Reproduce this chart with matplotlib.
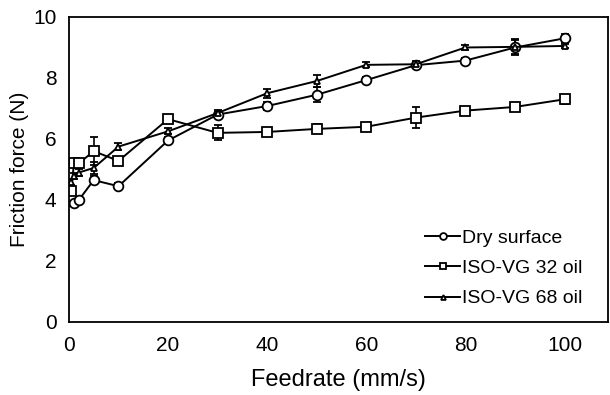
import matplotlib
matplotlib.use("Agg")
import matplotlib.pyplot as plt

plt.rcParams["font.family"] = ["Liberation Sans", "DejaVu Sans"]

feedrate = [0.5, 1, 2, 5, 10, 20, 30, 40, 50, 60, 70, 80, 90, 100]

dry = [4.1, 3.9, 4.0, 4.65, 4.45, 5.95, 6.8, 7.08, 7.45, 7.93, 8.42, 8.57, 9.0, 9.3]
dry_err = [0.1, 0.08, 0.08, 0.12, 0.1, 0.1, 0.1, 0.12, 0.25, 0.1, 0.1, 0.1, 0.25, 0.15]

vg32 = [4.3, 5.2, 5.2, 5.6, 5.28, 6.65, 6.2, 6.23, 6.33, 6.4, 6.7, 6.93, 7.05, 7.3]
vg32_err = [0.15, 0.1, 0.1, 0.45, 0.1, 0.1, 0.25, 0.08, 0.15, 0.08, 0.35, 0.08, 0.08, 0.15]

vg68 = [4.6, 4.8, 4.9, 5.05, 5.75, 6.25, 6.85, 7.5, 7.9, 8.43, 8.45, 9.0, 9.02, 9.05]
vg68_err = [0.1, 0.1, 0.1, 0.2, 0.12, 0.1, 0.1, 0.15, 0.2, 0.08, 0.1, 0.08, 0.25, 0.08]

fig = plt.figure(figsize=(6.1, 3.95), dpi=100)
ax = fig.add_axes([0.113, 0.185, 0.884, 0.772])

style = dict(color="black", linewidth=1.4, elinewidth=1.2, capsize=3,
             capthick=1.2, markerfacecolor="white", markeredgecolor="black",
             markeredgewidth=1.3)
ax.errorbar(feedrate, dry, yerr=dry_err, marker="o", markersize=7,
            label="Dry surface", **style)
ax.errorbar(feedrate, vg32, yerr=vg32_err, marker="s", markersize=7,
            label="ISO-VG 32 oil", **style)
ax.errorbar(feedrate, vg68, yerr=vg68_err, marker="^", markersize=5,
            label="ISO-VG 68 oil", **style)

ax.set_xlim(0, 108.8)
ax.set_ylim(0, 10)
ax.set_xticks(range(0, 101, 20))
ax.set_yticks(range(0, 11, 2))
ax.tick_params(length=0, labelsize=15)
ax.tick_params(axis="x", pad=10)
ax.tick_params(axis="y", pad=9)
for s in ax.spines.values():
    s.set_linewidth(1.3)

ax.set_xlabel("Feedrate (mm/s)", fontsize=17, labelpad=10)
ax.set_ylabel("Friction force (N)", fontsize=15, labelpad=3)

handles, labels = ax.get_legend_handles_labels()
handles = [h[0] for h in handles]
leg = ax.legend(handles, labels, loc="lower right", frameon=False, fontsize=14,
                handlelength=1.8, handletextpad=0.1, labelspacing=0.65,
                markerscale=0.7, bbox_to_anchor=(0.985, -0.01))

fig.savefig("out.png", dpi=100)
